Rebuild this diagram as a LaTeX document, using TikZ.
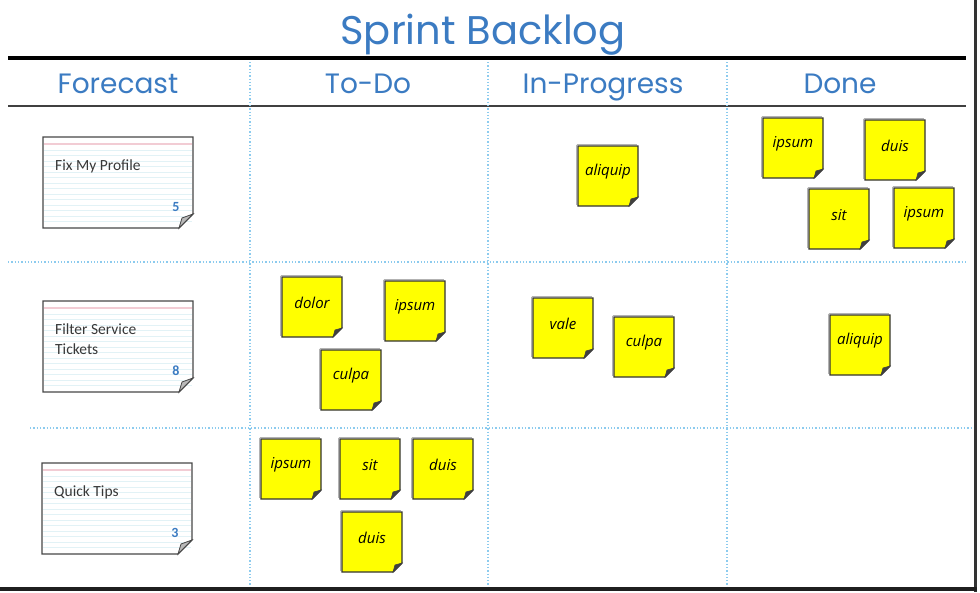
\documentclass[tikz,border=0pt]{standalone}
\usepackage{fontspec}
\setmainfont{Open Sans}
\newfontfamily\headfont{Poppins}
\newfontfamily\cardfont{Carlito}
\usepackage{tikz}

\definecolor{boardblue}{HTML}{3B7BC2}
\definecolor{gridblue}{HTML}{8CCBEE}
\definecolor{noteyellow}{HTML}{FFFF00}
\definecolor{rulecyan}{HTML}{E2F2F6}
\definecolor{rulepink}{HTML}{F2CCD4}

\tikzset{
  boardtitle/.style={text=boardblue, anchor=base, inner sep=0pt, font=\headfont\fontsize{40}{40}\selectfont},
  colhead/.style={text=boardblue, anchor=base, inner sep=0pt, font=\headfont\fontsize{28}{28}\selectfont},
  gridline/.style={gridblue, dotted, line width=1.3pt},
  notetext/.style={inner sep=0pt, font=\itshape\fontsize{15}{15}\selectfont},
  cardtext/.style={inner sep=0pt, anchor=north west, align=left, text=black!78,
    font=\cardfont\fontsize{15.5}{20}\selectfont},
  cardnum/.style={inner sep=0pt, text=boardblue, font=\cardfont\bfseries\fontsize{14}{14}\selectfont},
}

% sticky note: name, centre x, centre y, text
\newcommand{\sticky}[4]{%
  \begin{scope}[shift={(#2,#3)}]
    \draw[gray!60, line width=1.5pt] (-31.5,-31.5) -- (28.5,-31.5);
    \draw[gray!60, line width=1.5pt] (-31.5,-31.5) -- (-31.5,28.5);
    \draw[black!80, line width=1.4pt, fill=noteyellow]
      (-30,-30) -- (30,-30) -- (30,21) -- (21,30) -- (-30,30) -- cycle;
    \filldraw[black!75, line width=0.6pt] (30,21) -- (21,30) -- (23,23) -- cycle;
    \node[notetext] (#1) at (0,-4) {#4};
  \end{scope}}

% index card: name, left, top, text, number
\newcommand{\indexcard}[5]{%
  \begin{scope}[shift={(#2,#3)}]
    \fill[white] (0,0) -- (150,0) -- (150,77) -- (136,91) -- (0,91) -- cycle;
    \foreach \r in {13,18.5,...,88} \draw[rulecyan, line width=0.7pt] (1,\r) -- (149,\r);
    \draw[rulepink, line width=1.1pt] (1,7) -- (149,7);
    \draw[black!72, line width=1.3pt] (0,0) -- (150,0) -- (150,77) -- (136,91) -- (0,91) -- cycle;
    \filldraw[fill=gray!55, draw=black!72, line width=0.8pt] (150,77) -- (136,91) -- (139,81) -- cycle;
    \node[cardtext] (#1) at (12,23) {#4};
    \node[cardnum] (#1num) at (133,70) {#5};
  \end{scope}}

\begin{document}
\begin{tikzpicture}[x=1pt, y=-1pt]
\useasboundingbox (0,0) rectangle (980,592);
\fill[white] (0,0) rectangle (980,592);

% title and column heads
\node[boardtitle] (title) at (483,44) {Sprint Backlog};
\node[colhead] (forecast) at (118,93) {Forecast};
\node[colhead] (todo) at (368,93) {To-Do};
\node[colhead] (inprog) at (603,93) {In-Progress};
\node[colhead] (done) at (840,93) {Done};

\draw[black, line width=4.5pt] (8,58) -- (966,58);
\draw[black!75, line width=2.5pt] (8,106) -- (966,106);

% dotted grid
\foreach \x in {250,488,727} \draw[gridline] (\x,62) -- (\x,588);
\draw[gridline] (8,262) -- (966,262);
\draw[gridline] (30,428) -- (975,428);

% frame
\draw[black!80, line width=3pt] (975,0) -- (975,592);
\draw[black!88, line width=4pt] (0,589) -- (977,589);

% forecast cards
\indexcard{fix}{43}{137}{Fix My Profile}{5}
\indexcard{filter}{43}{301}{Filter Service\\Tickets}{8}
\indexcard{tips}{42}{463}{Quick Tips}{3}

% first row
\sticky{aliquipA}{608}{176}{aliquip}
\sticky{ipsumA}{793}{148}{ipsum}
\sticky{duisA}{895}{150}{duis}
\sticky{sitA}{839}{219}{sit}
\sticky{ipsumB}{924}{218}{ipsum}

% second row
\sticky{dolor}{312}{307}{dolor}
\sticky{ipsumC}{415}{311}{ipsum}
\sticky{culpaA}{351}{380}{culpa}
\sticky{vale}{563}{328}{vale}
\sticky{culpaB}{644}{347}{culpa}
\sticky{aliquipB}{860}{345}{aliquip}

% third row
\sticky{ipsumD}{291}{469}{ipsum}
\sticky{sitB}{370}{469}{sit}
\sticky{duisB}{443}{469}{duis}
\sticky{duisC}{372}{542}{duis}
\end{tikzpicture}
\end{document}
